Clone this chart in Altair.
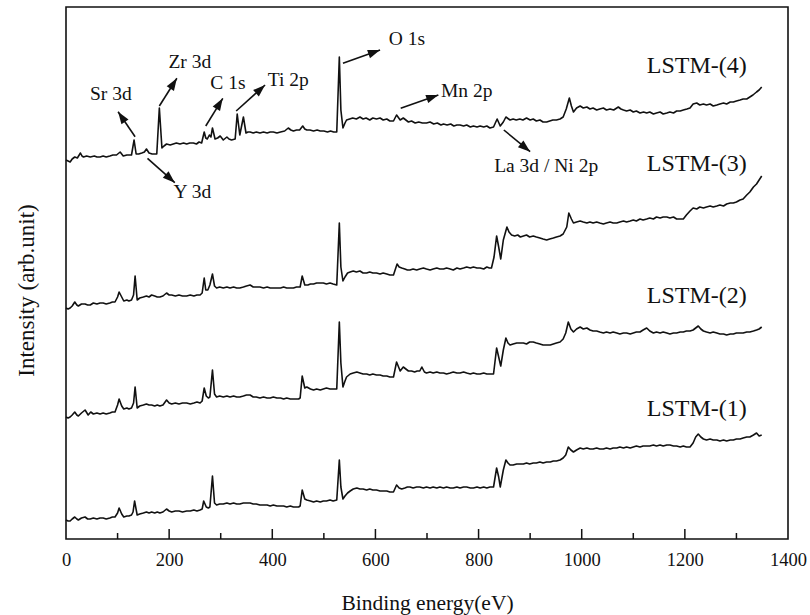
import math
import altair as alt
import pandas as pd

# ---------------- data ----------------
series_names = ["LSTM-(1)", "LSTM-(2)", "LSTM-(3)", "LSTM-(4)"]

energy_1 = [0, 4, 8, 12, 17, 21, 24, 30, 37, 42,
            47, 53, 60, 66, 72, 78, 85, 90, 95, 100,
            103, 108, 112, 118, 122, 127, 130, 133, 138, 143,
            150, 156, 161, 166, 172, 177, 182, 188, 195, 200,
            205, 212, 219, 226, 234, 241, 248, 254, 260, 264,
            267, 272, 276, 279, 284, 288, 292, 298, 305, 312,
            318, 325, 331, 337, 344, 350, 357, 363, 369, 376,
            383, 390, 396, 402, 409, 416, 422, 428, 435, 441,
            447, 451, 454, 458, 463, 467, 474, 480, 486, 493,
            499, 505, 512, 518, 525, 530, 533, 537, 541, 546,
            551, 557, 564, 570, 576, 583, 589, 595, 602, 609,
            615, 622, 628, 635, 641, 646, 651, 657, 662, 667,
            673, 680, 686, 693, 699, 706, 712, 719, 725, 732,
            738, 745, 751, 758, 764, 771, 777, 784, 790, 797,
            803, 810, 816, 822, 829, 835, 839, 842, 848, 853,
            857, 861, 867, 874, 880, 887, 893, 899, 906, 912,
            919, 925, 932, 939, 945, 951, 958, 964, 969, 974,
            979, 984, 990, 997, 1003, 1010, 1016, 1022, 1029, 1035,
            1042, 1048, 1055, 1061, 1068, 1074, 1081, 1087, 1094, 1100,
            1106, 1113, 1119, 1126, 1132, 1139, 1145, 1152, 1158, 1165,
            1171, 1178, 1184, 1191, 1197, 1203, 1210, 1216, 1221, 1226,
            1231, 1236, 1242, 1249, 1255, 1262, 1268, 1275, 1281, 1288,
            1294, 1300, 1307, 1313, 1320, 1326, 1333, 1339, 1344, 1349]
intensity_1 = [19, 18, 18, 20, 22, 20, 19, 21, 22, 20,
               20, 21, 20, 21, 21, 20, 21, 22, 22, 26,
               31, 25, 22, 23, 23, 24, 27, 38, 24, 25,
               26, 27, 26, 27, 26, 27, 26, 27, 30, 28,
               27, 28, 28, 27, 28, 28, 29, 28, 29, 30,
               38, 32, 31, 32, 63, 36, 34, 35, 35, 36,
               35, 36, 35, 35, 36, 36, 36, 35, 35, 34,
               34, 34, 33, 34, 33, 33, 33, 32, 33, 32,
               32, 32, 33, 49, 40, 39, 38, 37, 38, 37,
               38, 38, 39, 38, 39, 79, 52, 40, 43, 46,
               48, 50, 51, 50, 50, 49, 50, 49, 49, 48,
               48, 48, 47, 47, 54, 51, 50, 51, 52, 52,
               51, 52, 52, 51, 52, 51, 52, 51, 52, 51,
               52, 51, 51, 52, 51, 52, 52, 51, 51, 52,
               51, 52, 51, 52, 52, 71, 62, 52, 69, 79,
               76, 74, 74, 75, 75, 75, 76, 75, 76, 76,
               77, 76, 77, 77, 78, 78, 79, 81, 84, 92,
               89, 87, 89, 91, 90, 91, 90, 90, 91, 90,
               90, 91, 90, 91, 91, 92, 91, 92, 91, 92,
               93, 92, 93, 93, 93, 94, 93, 94, 93, 94,
               94, 93, 93, 92, 93, 92, 92, 96, 102, 105,
               102, 100, 99, 100, 99, 99, 98, 99, 98, 99,
               99, 100, 100, 101, 102, 102, 104, 106, 103, 104]

energy_2 = [0, 4, 8, 12, 17, 21, 24, 30, 37, 43,
            48, 53, 60, 66, 72, 78, 85, 90, 95, 100,
            103, 108, 112, 118, 122, 127, 131, 134, 138, 143,
            150, 156, 161, 166, 172, 177, 182, 188, 195, 200,
            205, 212, 219, 226, 234, 241, 248, 254, 260, 264,
            268, 272, 276, 279, 284, 288, 292, 298, 305, 312,
            318, 325, 331, 337, 344, 350, 357, 363, 369, 376,
            383, 390, 396, 402, 409, 416, 422, 428, 435, 441,
            447, 451, 454, 458, 463, 467, 474, 480, 486, 493,
            499, 505, 512, 518, 525, 530, 533, 537, 541, 544,
            551, 557, 564, 570, 576, 583, 589, 595, 602, 609,
            615, 622, 628, 635, 641, 648, 654, 659, 664, 670,
            676, 681, 686, 690, 695, 699, 706, 712, 719, 725,
            732, 738, 745, 751, 758, 764, 771, 777, 784, 790,
            797, 803, 810, 816, 822, 829, 835, 839, 843, 848,
            853, 857, 861, 867, 874, 880, 887, 893, 899, 906,
            912, 919, 925, 932, 939, 945, 951, 958, 964, 969,
            974, 979, 984, 990, 997, 1003, 1010, 1016, 1022, 1029,
            1035, 1042, 1048, 1055, 1061, 1068, 1074, 1081, 1087, 1094,
            1100, 1106, 1113, 1119, 1126, 1132, 1139, 1145, 1152, 1158,
            1165, 1171, 1178, 1184, 1191, 1197, 1203, 1210, 1216, 1221,
            1226, 1231, 1236, 1242, 1249, 1255, 1262, 1268, 1275, 1281,
            1288, 1294, 1300, 1307, 1313, 1320, 1326, 1333, 1339, 1344,
            1349]
intensity_2 = [122, 121, 122, 124, 127, 124, 123, 126, 129, 124,
               127, 125, 126, 125, 126, 125, 126, 127, 127, 134,
               140, 133, 130, 131, 130, 131, 136, 152, 131, 133,
               134, 135, 134, 134, 133, 134, 133, 134, 139, 136,
               135, 136, 135, 136, 136, 135, 136, 137, 136, 138,
               151, 143, 141, 142, 169, 145, 142, 143, 142, 143,
               142, 143, 142, 142, 143, 144, 144, 142, 142, 141,
               142, 141, 141, 142, 141, 141, 140, 141, 140, 140,
               140, 140, 141, 163, 151, 152, 150, 149, 150, 149,
               150, 151, 150, 150, 150, 217, 176, 152, 158, 162,
               165, 166, 167, 166, 165, 165, 164, 165, 164, 164,
               163, 163, 162, 162, 177, 168, 172, 170, 168, 168,
               167, 168, 168, 172, 167, 166, 167, 166, 167, 166,
               166, 165, 166, 167, 166, 166, 167, 166, 165, 166,
               165, 165, 166, 165, 165, 165, 191, 182, 173, 189,
               201, 196, 194, 195, 196, 196, 196, 195, 197, 197,
               196, 195, 194, 194, 194, 195, 196, 197, 200, 206,
               217, 210, 207, 210, 212, 210, 211, 209, 208, 208,
               207, 206, 207, 206, 207, 206, 205, 206, 206, 205,
               206, 207, 207, 209, 211, 208, 206, 207, 206, 207,
               206, 205, 206, 206, 207, 207, 208, 208, 209, 211,
               213, 210, 208, 207, 206, 207, 206, 205, 205, 204,
               205, 205, 206, 206, 206, 207, 207, 208, 209, 210,
               212]

energy_3 = [0, 4, 8, 12, 17, 21, 24, 30, 37, 42,
            47, 53, 60, 66, 72, 78, 85, 90, 95, 100,
            103, 108, 112, 118, 122, 127, 131, 134, 138, 143,
            150, 156, 161, 166, 172, 177, 182, 188, 195, 200,
            205, 212, 219, 226, 234, 241, 248, 254, 260, 264,
            268, 271, 275, 279, 284, 288, 292, 298, 305, 312,
            318, 325, 331, 337, 344, 350, 357, 363, 369, 376,
            383, 390, 396, 402, 409, 416, 422, 428, 435, 441,
            447, 451, 454, 458, 463, 469, 474, 480, 486, 493,
            499, 505, 512, 518, 525, 530, 533, 537, 541, 546,
            551, 557, 563, 570, 576, 583, 589, 595, 602, 609,
            615, 622, 628, 635, 642, 646, 651, 657, 662, 667,
            673, 680, 686, 693, 699, 706, 712, 719, 725, 732,
            738, 745, 751, 758, 764, 771, 777, 784, 790, 797,
            803, 810, 816, 821, 825, 830, 835, 839, 843, 848,
            855, 859, 864, 870, 876, 881, 887, 893, 899, 906,
            912, 919, 925, 932, 938, 945, 951, 958, 964, 971,
            975, 980, 984, 990, 997, 1003, 1010, 1016, 1022, 1029,
            1035, 1042, 1048, 1055, 1061, 1068, 1074, 1081, 1087, 1094,
            1100, 1106, 1113, 1119, 1126, 1132, 1139, 1145, 1152, 1158,
            1165, 1171, 1178, 1184, 1191, 1197, 1203, 1210, 1216, 1223,
            1229, 1236, 1242, 1249, 1255, 1262, 1268, 1275, 1281, 1288,
            1294, 1300, 1307, 1313, 1320, 1326, 1333, 1339, 1344, 1349]
intensity_3 = [231, 230, 231, 233, 237, 234, 233, 235, 235, 234,
               234, 236, 235, 236, 236, 235, 236, 237, 237, 242,
               247, 242, 238, 239, 238, 239, 244, 263, 239, 241,
               242, 243, 242, 244, 243, 242, 242, 243, 246, 244,
               244, 243, 244, 243, 243, 244, 243, 244, 244, 246,
               261, 249, 249, 254, 265, 253, 251, 252, 251, 252,
               251, 252, 251, 251, 252, 253, 254, 252, 252, 252,
               251, 252, 251, 251, 251, 251, 252, 251, 251, 251,
               252, 252, 252, 263, 254, 254, 255, 255, 256, 256,
               256, 255, 256, 255, 254, 316, 272, 258, 262, 266,
               267, 268, 267, 268, 266, 266, 267, 266, 266, 265,
               266, 265, 264, 264, 275, 272, 271, 270, 269, 269,
               270, 269, 270, 271, 270, 269, 270, 271, 270, 270,
               271, 270, 269, 271, 270, 271, 272, 271, 272, 271,
               271, 270, 272, 271, 271, 282, 303, 292, 280, 299,
               312, 307, 304, 303, 304, 302, 303, 304, 302, 303,
               302, 301, 300, 299, 300, 301, 302, 303, 305, 312,
               326, 320, 316, 317, 318, 317, 316, 317, 316, 317,
               316, 315, 316, 317, 316, 316, 317, 318, 317, 318,
               319, 318, 320, 319, 320, 321, 320, 322, 321, 322,
               322, 321, 322, 320, 320, 320, 324, 328, 331, 330,
               332, 331, 332, 333, 332, 333, 334, 333, 335, 336,
               336, 337, 339, 340, 344, 347, 352, 355, 359, 363]

energy_4 = [0, 4, 8, 12, 17, 22, 28, 31, 34, 40,
            47, 55, 60, 66, 72, 78, 85, 91, 98, 105,
            111, 118, 124, 127, 132, 136, 141, 147, 152, 156,
            161, 167, 172, 176, 181, 186, 190, 195, 202, 208,
            214, 221, 228, 234, 240, 247, 253, 258, 263, 268,
            271, 274, 278, 281, 284, 289, 294, 299, 305, 312,
            316, 321, 328, 332, 337, 344, 349, 353, 357, 363,
            369, 376, 383, 390, 396, 402, 409, 416, 424, 431,
            436, 441, 447, 453, 459, 463, 467, 473, 480, 487,
            493, 500, 507, 513, 519, 525, 530, 533, 537, 541,
            544, 550, 556, 563, 570, 576, 582, 589, 595, 602,
            609, 615, 622, 628, 635, 641, 648, 654, 659, 664,
            670, 677, 684, 691, 699, 706, 713, 720, 727, 732,
            739, 746, 752, 758, 764, 771, 777, 784, 790, 797,
            803, 810, 816, 822, 829, 836, 842, 848, 853, 861,
            867, 873, 880, 886, 893, 900, 906, 912, 919, 925,
            932, 938, 944, 951, 958, 964, 970, 976, 980, 984,
            990, 997, 1003, 1010, 1016, 1022, 1029, 1035, 1042, 1048,
            1055, 1062, 1071, 1076, 1081, 1087, 1094, 1100, 1106, 1113,
            1120, 1126, 1132, 1139, 1145, 1152, 1158, 1165, 1171, 1178,
            1184, 1191, 1197, 1204, 1210, 1216, 1223, 1229, 1236, 1242,
            1249, 1255, 1262, 1268, 1275, 1281, 1288, 1294, 1300, 1307,
            1313, 1320, 1326, 1332, 1339, 1344, 1349]
intensity_4 = [379, 378, 377, 380, 382, 381, 386, 383, 382, 383,
               382, 383, 382, 382, 383, 382, 383, 384, 384, 387,
               383, 384, 384, 384, 399, 385, 385, 386, 387, 390,
               386, 385, 385, 385, 431, 391, 393, 395, 394, 395,
               396, 395, 396, 395, 396, 396, 395, 397, 396, 407,
               401, 400, 404, 402, 411, 400, 401, 403, 399, 402,
               400, 399, 400, 425, 404, 422, 406, 407, 407, 406,
               407, 406, 407, 406, 407, 407, 406, 407, 408, 411,
               409, 408, 409, 409, 413, 410, 409, 409, 408, 409,
               408, 408, 407, 408, 407, 407, 482, 429, 411, 416,
               419, 420, 421, 420, 422, 420, 421, 419, 421, 420,
               421, 419, 420, 418, 418, 424, 419, 421, 419, 417,
               418, 416, 417, 416, 416, 417, 415, 416, 414, 415,
               414, 415, 413, 414, 414, 413, 414, 412, 413, 412,
               413, 412, 413, 411, 412, 420, 413, 417, 422, 419,
               420, 419, 420, 419, 421, 419, 420, 418, 419, 417,
               417, 418, 419, 419, 420, 422, 430, 441, 433, 427,
               431, 433, 431, 432, 430, 431, 429, 430, 431, 429,
               430, 429, 432, 430, 429, 428, 429, 427, 428, 426,
               427, 426, 427, 425, 426, 427, 425, 426, 427, 426,
               428, 428, 429, 430, 431, 435, 436, 434, 435, 434,
               435, 433, 434, 435, 436, 435, 437, 437, 438, 439,
               440, 440, 442, 444, 447, 449, 452]

series_label_energy = [1223, 1223, 1223, 1223]
series_label_intensity = [123, 236.3, 368, 466.3]

peak_labels = ["Sr 3d", "Zr 3d", "C 1s", "Ti 2p", "O 1s", "Mn 2p", "La 3d / Ni 2p", "Y 3d"]
peak_label_energy = [87, 240, 314, 431, 661, 777, 931, 245]
peak_label_intensity = [439, 470.7, 449.7, 453, 494, 442.3, 367.3, 340.7]

arrow_tail_energy = [134, 181, 271, 330, 537, 649, 849, 158]
arrow_tail_intensity = [402.3, 433, 413, 428, 475.7, 430.7, 409, 380.7]
arrow_head_energy = [101, 215, 304, 386, 609, 722, 900, 211]
arrow_head_intensity = [427.3, 460.7, 440.7, 454, 489, 444, 387.3, 356.3]

x_tick_labels = [0, 200, 400, 600, 800, 1000, 1200, 1400]
x_major_ticks = [200, 400, 600, 800, 1000, 1200]
x_minor_ticks = [100, 300, 500, 700, 900, 1100, 1300]

# ---------------- build tables ----------------
frames = []
for name, e, i in zip(series_names,
                      [energy_1, energy_2, energy_3, energy_4],
                      [intensity_1, intensity_2, intensity_3, intensity_4]):
    frames.append(pd.DataFrame({"energy": e, "intensity": i, "series": name}))
spectra = pd.concat(frames, ignore_index=True)

W, H = 722, 532
X_MAX, Y_MAX = 1400, 532

series_df = pd.DataFrame({"energy": series_label_energy, "intensity": series_label_intensity,
                          "label": series_names})
peaks_df = pd.DataFrame({"energy": peak_label_energy, "intensity": peak_label_intensity,
                         "label": peak_labels})

angles = []
for te, ti, he, hi in zip(arrow_tail_energy, arrow_tail_intensity, arrow_head_energy, arrow_head_intensity):
    dx = (he - te) * W / X_MAX
    dy = -(hi - ti) * H / Y_MAX
    angles.append(math.degrees(math.atan2(dx, -dy)) % 360)
arrows_df = pd.DataFrame({"energy": arrow_tail_energy, "intensity": arrow_tail_intensity,
                          "he": arrow_head_energy, "hi": arrow_head_intensity, "angle": angles})
heads_df = pd.DataFrame({"energy": arrow_head_energy, "intensity": arrow_head_intensity, "angle": angles})

major_df = pd.DataFrame({"energy": x_major_ticks})
minor_df = pd.DataFrame({"energy": x_minor_ticks})

FONT = "Liberation Serif"
INK = "#111111"

x_scale = alt.Scale(domain=[0, X_MAX], nice=False, zero=False)
y_scale = alt.Scale(domain=[0, Y_MAX], nice=False, zero=False)

x_axis = alt.Axis(values=x_tick_labels, format="d", ticks=False, tickSize=0, domain=False, grid=False,
                  labelPadding=26, labelBaseline="alphabetic", labelFlush=False, labelFontSize=18.5,
                  title="Binding energy(eV)", titleY=70, titleBaseline="alphabetic",
                  titleFontSize=21.5)
y_axis = alt.Axis(labels=False, ticks=False, domain=False, grid=False,
                  title="Intensity (arb.unit)", titleX=-40, titleY=283,
                  titleAngle=270, titleAlign="center", titleBaseline="middle",
                  titleFontSize=23)

X = alt.X("energy:Q", scale=x_scale, axis=x_axis)
Y = alt.Y("intensity:Q", scale=y_scale, axis=y_axis)

lines = alt.Chart(spectra).mark_line(color=INK, strokeWidth=1.6, strokeJoin="round").encode(
    x=X, y=Y, detail="series:N",
)

major = alt.Chart(major_df).mark_rule(color=INK, strokeWidth=1.5).encode(
    x=X, y=alt.value(H), y2=alt.value(H - 10),
)
minor = alt.Chart(minor_df).mark_rule(color=INK, strokeWidth=1.5).encode(
    x=X, y=alt.value(H), y2=alt.value(H - 6),
)

arrow_lines = alt.Chart(arrows_df).mark_rule(color=INK, strokeWidth=1.6).encode(
    x=X, x2="he:Q", y=Y, y2="hi:Q",
)
arrow_heads = alt.Chart(heads_df).mark_point(
    shape="M0,0L0.7,2L-0.7,2Z", filled=True, color=INK, opacity=1, size=150, strokeWidth=0
).encode(
    x=X, y=Y, angle=alt.Angle("angle:Q", scale=None),
)

peak_text = alt.Chart(peaks_df).mark_text(font=FONT, fontSize=19.5, color=INK, align="center",
                                          baseline="alphabetic").encode(
    x=X, y=Y, text="label:N",
)
series_text = alt.Chart(series_df).mark_text(font=FONT, fontSize=24, color=INK, align="center",
                                             baseline="alphabetic").encode(
    x=X, y=Y, text="label:N",
)

chart = alt.layer(lines, major, minor, arrow_lines, arrow_heads, peak_text, series_text).properties(
    width=W, height=H,
    autosize=alt.AutoSizeParams(type="none"),
    padding={"left": 66, "top": 7, "right": 22, "bottom": 76},
    background="white",
).configure_view(
    stroke=INK, strokeWidth=1.6
).configure_axis(
    labelFont=FONT, labelColor=INK,
    titleFont=FONT, titleFontWeight="normal", titleColor=INK,
)

chart.save("out.html", embed_options={"renderer": "svg", "actions": False})
